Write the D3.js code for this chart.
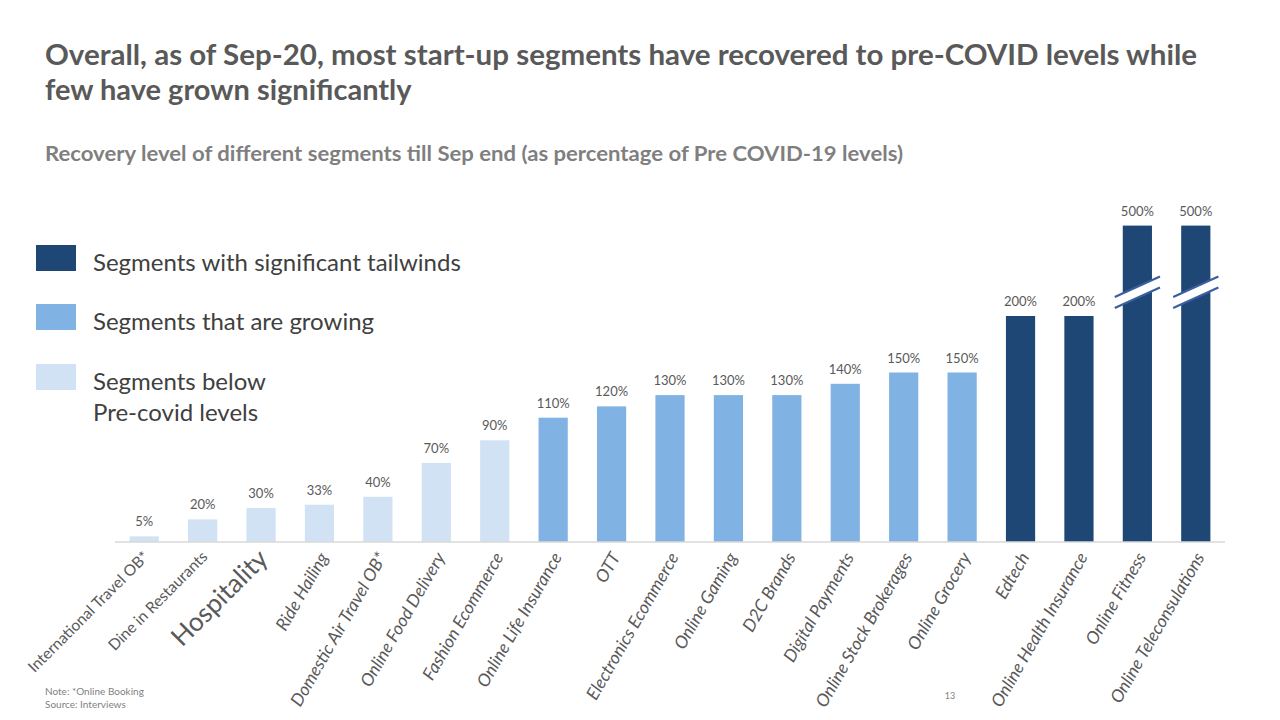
<!DOCTYPE html>
<html>
<head>
<meta charset="utf-8">
<script src="https://cdn.jsdelivr.net/npm/d3@7"></script>
<style>
  html, body { margin: 0; padding: 0; background: #fff; }
  svg { display: block; }
  text { font-family: Lato, "Open Sans", sans-serif; }
</style>
</head>
<body>
<svg id="chart" width="1280" height="720"></svg>
<script>
// ---- data ----
const categories = ["International Travel OB*", "Dine in Restaurants", "Hospitality", "Ride Hailing",
  "Domestic Air Travel OB*", "Online Food Delivery", "Fashion Ecommerce", "Online Life Insurance", "OTT",
  "Electronics Ecommerce", "Online Gaming", "D2C Brands", "Digital Payments", "Online Stock Brokerages",
  "Online Grocery", "Edtech", "Online Health Insurance", "Online Fitness", "Online Teleconsulations"];
const values = [5, 20, 30, 33, 40, 70, 90, 110, 120, 130, 130, 130, 140, 150, 150, 200, 200, 500, 500];
const tiers = ["below", "below", "below", "below", "below", "below", "below", "growing", "growing",
  "growing", "growing", "growing", "growing", "growing", "growing", "tailwind", "tailwind", "tailwind", "tailwind"];
const valueLabels = values.map(v => v + "%");
const legendKeys = ["tailwind", "growing", "below"];
const legendLabels = [["Segments with significant tailwinds"], ["Segments that are growing"], ["Segments below", "Pre-covid levels"]];
const tierColors = { tailwind: "#1f4776", growing: "#80b2e3", below: "#d1e2f4" };
const brokenAt = 250;      // values above this are drawn on a broken axis
const brokenDisplay = 280; // value at which broken bars are cut off
const breakLevel = 221;    // scale level where the break marks sit
const titleLines = ["Overall, as of Sep-20, most start-up segments have recovered to pre-COVID levels while",
  "few have grown significantly"];
const subtitle = "Recovery level of different segments till Sep end (as percentage of Pre COVID-19 levels)";
const notes = ["Note: *Online Booking", "Source: Interviews"];
const pageNumber = "13";

// ---- drawing ----
const svg = d3.select("#chart");
const baseY = 542;

const x = d3.scaleBand().domain(categories).range([115, 1225]).paddingInner(0.5).paddingOuter(0.25);
const y = d3.scaleLinear().domain([0, 200]).range([baseY, 316]);
const shown = v => v > brokenAt ? brokenDisplay : v;
const color = d3.scaleOrdinal().domain(Object.keys(tierColors)).range(Object.values(tierColors));

// title
svg.append("g").selectAll("text").data(titleLines).join("text")
  .attr("x", 45).attr("y", (d, i) => 65 + i * 35)
  .attr("font-size", 29).attr("font-weight", 700).attr("fill", "#595959")
  .each(function (d, i) { if (i === 0) d3.select(this).attr("textLength", 1152).attr("lengthAdjust", "spacingAndGlyphs"); })
  .text(d => d);

svg.append("text").attr("x", 45).attr("y", 161)
  .attr("font-size", 20).attr("font-weight", 700).attr("fill", "#7f7f7f")
  .attr("textLength", 858).attr("lengthAdjust", "spacingAndGlyphs")
  .text(subtitle);

// legend
const lg = svg.append("g");
legendKeys.forEach((k, i) => {
  const ty = [245, 304, 364][i];
  lg.append("rect").attr("x", 36).attr("y", ty).attr("width", 40).attr("height", 26).attr("fill", color(k));
  lg.append("text").attr("x", 93).attr("y", ty + 26).attr("font-size", 24).attr("fill", "#404040")
    .selectAll("tspan").data(legendLabels[i]).join("tspan")
    .attr("x", 93).attr("dy", (d, j) => j === 0 ? 0 : 31).text(d => d);
});

// bars
const data = categories.map((c, i) => ({ c, v: values[i], t: tiers[i], l: valueLabels[i] }));
svg.append("g").selectAll("rect").data(data).join("rect")
  .attr("x", d => x(d.c)).attr("width", x.bandwidth())
  .attr("y", d => y(shown(d.v))).attr("height", d => baseY - y(shown(d.v)))
  .attr("fill", d => color(d.t));

// axis line
svg.append("line").attr("x1", x.range()[0]).attr("x2", x.range()[1])
  .attr("y1", baseY).attr("y2", baseY).attr("stroke", "#d9d9d9").attr("stroke-width", 1.3);

// value labels
svg.append("g").selectAll("text").data(data).join("text")
  .attr("x", d => x(d.c) + x.bandwidth() / 2).attr("y", d => y(shown(d.v)) - 10)
  .attr("text-anchor", "middle").attr("font-size", 13).attr("fill", "#595959")
  .text(d => d.l);

// axis break marks
const brk = data.filter(d => d.v > brokenAt);
const bg = svg.append("g");
brk.forEach(d => {
  const cx = x(d.c) + x.bandwidth() / 2;
  const cy = y(breakLevel);
  const hw = x.bandwidth() / 2 + 8, slope = 0.45, gap = 5.5;
  bg.append("polygon")
    .attr("points", [[cx - hw, cy + hw * slope - gap], [cx + hw, cy - hw * slope - gap],
                     [cx + hw, cy - hw * slope + gap], [cx - hw, cy + hw * slope + gap]].map(p => p.join(",")).join(" "))
    .attr("fill", "#ffffff");
  [-gap, gap].forEach(o => {
    bg.append("line")
      .attr("x1", cx - hw).attr("y1", cy + hw * slope + o)
      .attr("x2", cx + hw).attr("y2", cy - hw * slope + o)
      .attr("stroke", "#3a5f9e").attr("stroke-width", 2.2);
  });
});

// category labels
svg.append("g").selectAll("text").data(data).join("text")
  .attr("transform", (d, i) => {
    const cx = x(d.c) + x.bandwidth() / 2;
    return i < 3 ? `translate(${cx + 2},${baseY + 12}) rotate(-45)` : `translate(${cx + 4},${baseY + 12}) rotate(-60)`;
  })
  .attr("text-anchor", "end").attr("dy", "0.35em")
  .attr("font-size", (d, i) => i === 2 ? 26 : (i < 2 ? 15.5 : 17.5))
  .attr("font-style", (d, i) => i < 3 ? "normal" : "italic")
  .attr("fill", "#595959")
  .text(d => d.c);

// notes
svg.append("g").selectAll("text").data(notes).join("text")
  .attr("x", 45).attr("y", (d, i) => 695 + i * 13)
  .attr("font-size", 10).attr("fill", "#7f7f7f").text(d => d);
svg.append("text").attr("x", 950).attr("y", 699).attr("text-anchor", "middle")
  .attr("font-size", 9).attr("fill", "#7f7f7f").text(pageNumber);
</script>
</body>
</html>
